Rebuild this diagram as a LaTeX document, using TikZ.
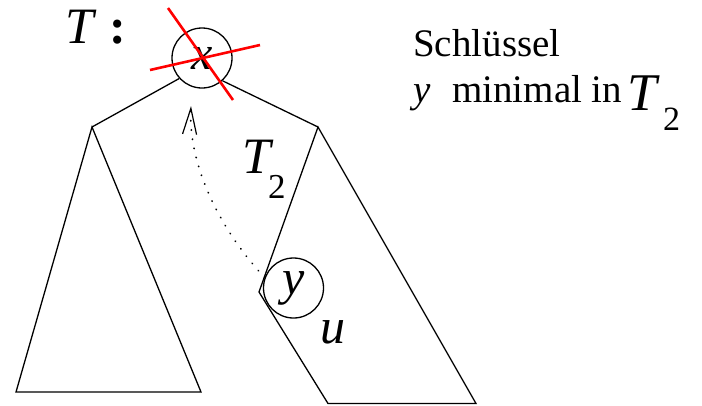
\documentclass[tikz,border=0pt]{standalone}
\usepackage{fontspec}
\setmainfont{Liberation Serif}
\usetikzlibrary{arrows.meta}
\begin{document}
\begin{tikzpicture}[x=1pt,y=-1pt,
  edge/.style={line width=1.3pt,line join=miter},
  crossout/.style={line width=2.6pt,color=red},
  keynode/.style={circle,draw,line width=1.3pt,minimum size=60pt,inner sep=0pt},
  txt/.style={anchor=base west,inner sep=0pt}]
\useasboundingbox (0,0) rectangle (702,405);
% root node
\node[keynode,font=\fontsize{48}{50}\selectfont\itshape] (x) at (202,58) {x};
\node[keynode,font=\fontsize{50}{52}\selectfont\itshape] (y) at (293.5,288) {y};
% subtrees
\coordinate (la) at (92,127);
\coordinate (ra) at (318,127);
\coordinate (lbl) at (16,392);
\coordinate (lbr) at (201,392);
\coordinate (rk) at (259,292);
\coordinate (rbl) at (328,403.5);
\coordinate (rbr) at (476,403.5);
\draw[edge] (x.222) -- (la);
\draw[edge] (x.-48) -- (ra);
\draw[edge] (la) -- (lbl) -- (lbr) -- cycle;
\draw[edge] (ra) -- (rk) -- (rbl) -- (rbr) -- cycle;
% red cross
\coordinate (c1a) at (168,8);
\coordinate (c1b) at (233,100);
\coordinate (c2a) at (150,70);
\coordinate (c2b) at (260,45);
\draw[crossout] (c1a) -- (c1b);
\draw[crossout] (c2a) -- (c2b);
% dotted arrow
\coordinate (tip) at (191,106);
\draw[line width=1.8pt,line cap=round,dash pattern=on 0.3pt off 9pt,
  -{Straight Barb[length=26pt,width=14pt,line width=1.2pt,line cap=butt]}]
  (y.160) .. controls (220,230) and (188,165) .. (tip);
% labels
\node[txt,font=\fontsize{51}{53}\selectfont\itshape] (T) at (65,43) {T};
\node[txt,font=\fontsize{50}{52}\selectfont\bfseries] (colon) at (109,43) {:};
\node[txt,font=\fontsize{51}{53}\selectfont\itshape] (T2) at (242,173) {T};
\node[txt,font=\fontsize{35}{37}\selectfont] (T2s) at (268,198) {2};
\node[txt,font=\fontsize{50}{52}\selectfont\itshape] (u) at (320,343) {u};
\node[txt,font=\fontsize{39}{41}\selectfont] (schl) at (413,56) {Schlüssel};
\node[txt,font=\fontsize{39}{41}\selectfont\itshape] (yk) at (413,102) {y};
\node[txt,font=\fontsize{39}{41}\selectfont] (mini) at (452,102) {minimal in};
\node[txt,font=\fontsize{53}{55}\selectfont\itshape] (Tr) at (627,110) {T};
\node[txt,font=\fontsize{34}{36}\selectfont] (Trs) at (663,130) {2};
\end{tikzpicture}
\end{document}
